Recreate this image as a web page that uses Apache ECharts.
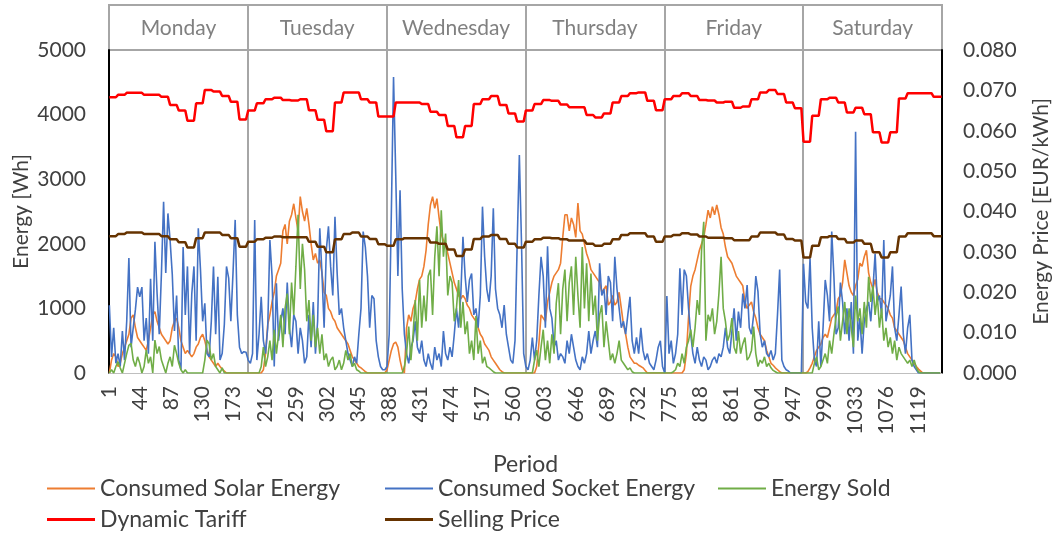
<!DOCTYPE html>
<html>
<head>
<meta charset="utf-8">
<script src="https://cdn.jsdelivr.net/npm/echarts@6/dist/echarts.min.js"></script>
<style>
  html, body { margin: 0; padding: 0; background: #ffffff; }
  #chart { width: 1056px; height: 535px; }
</style>
</head>
<body>
<div id="chart"></div>
<script>
// Week layout: 6 days, 192 periods (7.5 min) per day
const dayNames = ['Monday', 'Tuesday', 'Wednesday', 'Thursday', 'Friday', 'Saturday'];
const periodsPerDay = 192;
const sampleStep = 3;   // energy samples every 3 periods
const tariffStep = 12;  // prices change every 12 periods

// Energy [Wh], one value per 3 periods of the day
const solarMon = [0,200,300,250,100,150,300,400,500,600, 850,900,700,550,500,450,400,350,500,700, 900,950,800,700,600,550,500,450,500,700, 800,850,700,500,400,300,350,300,250,300, 400,450,550,600,500,350,250,200,150,100, 150,100,60,30,0,0,0,0,0,0, 0,0,0,0];
const socketMon = [1050,250,700,150,300,100,650,200,800,1780, 400,700,980,1330,1180,1330,500,850,300,1460, 500,2030,1230,600,1540,2650,1550,2470,2050,1530, 650,1200,200,50,1950,900,1650,300,1230,1650, 500,2240,1600,800,1080,300,250,800,1650,600, 1490,200,300,750,1650,1470,800,1550,2370,900, 400,300,330,320];
const soldMon = [0,50,0,100,175,80,0,150,300,430, 460,200,100,250,150,0,100,355,150,250, 0,510,300,410,200,100,0,150,250,100, 430,300,150,50,0,50,0,0,0,0, 0,0,0,0,200,510,450,200,300,100, 50,0,80,0,0,0,0,0,0,0, 0,0,0,0];

const solarTue = [0,0,0,0,0,0,0,50,300,750, 900,1100,1250,1500,1600,1700,2200,2300,2000,2350, 2450,2620,2400,2200,2730,2500,2350,2550,2300,2000, 1750,1850,1700,1750,1550,1250,1200,1000,950,850, 800,700,650,600,550,500,450,350,250,200, 150,100,80,50,20,0,0,0,0,0, 0,0,0,0];
const socketTue = [200,150,300,2370,200,600,1180,500,300,700, 2060,1500,100,1390,500,800,1000,600,1400,700, 400,900,800,300,700,500,150,250,900,400, 1100,300,800,2240,1550,700,1900,2270,1650,1200, 2420,1550,900,1000,700,500,300,200,100,250, 150,600,1000,2190,1950,1500,700,1200,1150,500, 250,100,50,50];
const soldTue = [0,0,0,0,0,0,100,400,100,250, 500,200,670,300,600,900,400,1000,1230,600, 1400,900,1650,2450,1300,2000,1600,800,1130,500, 900,400,700,300,600,200,300,100,200,250, 50,100,200,50,150,350,200,300,100,150, 50,30,0,0,0,0,0,0,0,0, 0,0,0,0];

const solarWed = [50,200,350,450,480,400,200,50,0,700, 900,800,1000,1100,1300,1450,1500,1650,1900,2300, 2600,2730,2550,2700,2400,2150,2050,2000,1850,1700, 1550,1400,1300,1200,1150,1200,1150,1050,1000,900, 850,800,700,600,550,450,400,350,250,200, 150,100,50,20,0,0,0,0,0,0, 0,0,0,0];
const socketWed = [100,600,2500,4580,3090,1500,2830,1300,600,300, 150,400,500,800,400,300,500,200,100,300, 150,50,400,200,300,100,650,300,200,400, 250,600,1000,700,1200,2110,1500,1100,1440,1540, 900,1000,700,1200,2575,1800,1300,1100,1500,2550, 1300,1000,900,700,1050,600,400,200,150,500, 2000,3375,2000,300];
const soldWed = [0,0,0,0,0,0,0,0,100,300, 720,200,600,1130,500,1440,700,1200,800,1500, 1600,900,1800,2270,1500,2520,1800,2160,1200,1500, 1400,800,1000,1440,700,1100,600,800,300,500, 200,880,300,500,150,250,100,80,50,20, 0,0,0,0,0,0,0,0,0,0, 0,0,0,0];

const solarThu = [0,0,0,0,0,100,450,900,850,800, 1100,1250,1400,1500,1550,1600,1700,2100,2450,2450, 2200,2400,2300,2100,2630,2200,2150,2000,1850,1750, 1600,1550,1500,1450,1400,1250,1300,1350,1050,1100, 1200,1050,1100,1250,1000,750,600,400,250,200, 150,150,120,100,80,40,0,0,0,0, 0,0,0,0];
const socketThu = [100,50,200,550,200,500,1200,1800,1500,700, 1960,1000,850,400,500,200,300,250,150,500, 300,600,400,200,100,50,250,150,300,650, 300,500,650,400,1700,1200,1300,900,1500,1400, 800,1800,1300,1000,700,800,600,900,1180,500, 300,550,300,700,350,200,300,150,100,50, 200,400,500,100];
const soldThu = [0,0,0,0,200,355,100,400,670,200, 500,150,600,300,1080,1390,600,1300,1600,800, 1400,1650,900,1800,1200,700,1950,1000,1700,800, 1540,900,1200,500,900,1050,400,800,500,200, 300,150,300,500,200,150,100,50,80,20, 0,0,0,0,0,0,0,0,0,0, 0,0,0,0];

const solarFri = [0,0,0,0,0,0,0,0,0,50, 300,870,1340,1500,1600,1750,1900,2000,2100,2300, 2520,2400,2575,2450,2600,2450,2250,2150,1950,1800, 1750,1700,1600,1500,1450,1400,1350,1100,1000,1050, 1100,950,850,700,600,550,500,350,250,150, 120,80,50,20,0,0,0,0,0,0, 0,0,0,0];
const socketFri = [0,1190,300,500,150,300,600,1620,900,1600, 1500,1000,600,300,150,400,200,100,250,200, 50,100,200,250,150,300,250,400,700,400, 300,650,1000,500,950,700,1230,1000,1360,700, 600,900,1500,1260,600,400,500,300,250,350, 200,300,900,1600,200,100,50,30,0,0, 0,0,0,0];
const soldFri = [0,0,0,0,20,50,150,100,300,150, 400,500,670,400,700,1130,900,1900,2340,500, 900,800,1000,600,800,1230,1800,1000,800,500, 600,850,400,300,650,300,450,550,200,250, 350,720,300,100,200,150,250,100,150,80, 40,20,0,0,0,0,0,0,0,0, 0,0,0,0];

const solarSat = [0,0,20,80,150,250,350,400,450,550, 600,550,700,850,900,950,1150,1200,1400,1750, 1550,1350,1250,1200,1350,1450,1700,1650,1800,1900, 1550,1400,1300,1450,1250,1150,1150,1100,1050,1000, 900,850,700,650,600,550,500,400,300,250, 200,150,100,60,30,0,0,0,0,0, 0,0,0,0];
const socketSat = [1690,1100,1000,1775,700,200,100,800,100,700, 1440,1200,800,2190,1500,600,700,1400,1100,600, 1000,500,1100,300,3735,500,850,300,800,1000, 1100,800,1300,1850,1100,1200,900,2060,800,1000, 1200,1650,700,500,900,1340,600,300,700,900, 200,100,50,0,0,0,0,0,0,0, 0,0,0,0];
const soldSat = [0,0,0,0,0,150,250,50,100,200, 300,150,500,300,600,870,1030,500,800,1100, 600,1000,700,400,1200,800,1000,600,1100,700, 1490,1100,1350,900,1200,700,1000,500,700,400, 550,300,500,200,400,300,250,200,150,200, 100,200,80,20,0,0,0,0,0,0, 0,0,0,0];

// Prices [EUR/kWh], one value per 12 periods (16 per day)
const tariffMon = [0.0683,0.0689,0.0694,0.0694,0.0689,0.0689,0.0684,0.0664,0.0650,0.0625,0.0668,0.0701,0.0697,0.0686,0.0672,0.0628];
const tariffTue = [0.0650,0.0668,0.0678,0.0682,0.0676,0.0675,0.0678,0.0651,0.0627,0.0599,0.0670,0.0695,0.0695,0.0678,0.0670,0.0635];
const tariffWed = [0.0635,0.0670,0.0670,0.0670,0.0666,0.0647,0.0639,0.0612,0.0584,0.0612,0.0666,0.0678,0.0686,0.0664,0.0643,0.0623];
const tariffThu = [0.0650,0.0666,0.0676,0.0674,0.0665,0.0658,0.0658,0.0639,0.0633,0.0643,0.0670,0.0686,0.0693,0.0695,0.0674,0.0651];
const tariffFri = [0.0678,0.0686,0.0693,0.0686,0.0676,0.0675,0.0670,0.0672,0.0657,0.0660,0.0678,0.0695,0.0701,0.0691,0.0670,0.0656];
const tariffSat = [0.0573,0.0637,0.0678,0.0682,0.0670,0.0645,0.0657,0.0641,0.0596,0.0571,0.0596,0.0680,0.0693,0.0693,0.0693,0.0684];

const sellMon = [0.0339,0.0344,0.0348,0.0348,0.0344,0.0344,0.0339,0.0331,0.0324,0.0311,0.0334,0.0348,0.0348,0.0342,0.0334,0.0313];
const sellTue = [0.0325,0.0331,0.0335,0.0338,0.0336,0.0336,0.0336,0.0325,0.0313,0.0299,0.0331,0.0344,0.0348,0.0338,0.0332,0.0319];
const sellWed = [0.0315,0.0331,0.0334,0.0334,0.0334,0.0323,0.0320,0.0306,0.0290,0.0306,0.0332,0.0338,0.0342,0.0332,0.0320,0.0311];
const sellThu = [0.0325,0.0331,0.0335,0.0334,0.0331,0.0328,0.0328,0.0320,0.0315,0.0320,0.0331,0.0342,0.0346,0.0346,0.0338,0.0325];
const sellFri = [0.0338,0.0342,0.0346,0.0343,0.0338,0.0335,0.0335,0.0334,0.0329,0.0329,0.0338,0.0348,0.0348,0.0343,0.0332,0.0328];
const sellSat = [0.0286,0.0315,0.0336,0.0339,0.0332,0.0323,0.0328,0.0320,0.0299,0.0286,0.0299,0.0338,0.0346,0.0346,0.0346,0.0339];

const solarDays = [solarMon, solarTue, solarWed, solarThu, solarFri, solarSat];
const socketDays = [socketMon, socketTue, socketWed, socketThu, socketFri, socketSat];
const soldDays = [soldMon, soldTue, soldWed, soldThu, soldFri, soldSat];
const tariffDays = [tariffMon, tariffTue, tariffWed, tariffThu, tariffFri, tariffSat];
const sellDays = [sellMon, sellTue, sellWed, sellThu, sellFri, sellSat];

const totalPeriods = periodsPerDay * dayNames.length;
// Category labels 1..1152 for the period axis
const periodLabels = Array.from({ length: totalPeriods }, (_, i) => String(i + 1));

// Period p (1-based) sits at x = p - 0.5 on the hidden value axis
function energyPoints(days) {
  const pts = [];
  days.forEach((vals, d) => {
    vals.forEach((v, i) => pts.push([d * periodsPerDay + i * sampleStep + 0.5, v]));
  });
  return pts;
}
function pricePoints(days) {
  const pts = [];
  days.forEach((steps, d) => {
    for (let k = 0; k < periodsPerDay; k++) {
      pts.push([d * periodsPerDay + k + 0.5, steps[Math.floor(k / tariffStep)]]);
    }
  });
  return pts;
}

const FONT = 'Lato';
const TXT = '#404040';

function legendAt(name, left, top, h) {
  return {
    data: [name], left: left, top: top, icon: 'rect', padding: 0,
    itemWidth: 48, itemHeight: h, itemGap: 0,
    textStyle: { fontFamily: FONT, fontSize: 23, color: TXT },
    selectedMode: false
  };
}

const chart = echarts.init(document.getElementById('chart'), null, { renderer: 'canvas' });
chart.setOption({
  animation: false,
  backgroundColor: '#ffffff',
  textStyle: { fontFamily: FONT },
  grid: [
    { left: 109, right: 114, top: 50, bottom: 162, outerBoundsMode: 'none' },
    { left: 109, right: 114, top: 5, height: 45, outerBoundsMode: 'none', show: true, borderColor: '#a6a6a6', borderWidth: 2, backgroundColor: 'transparent' }
  ],
  legend: [
    legendAt('Consumed Solar Energy', 47, 477, 2),
    legendAt('Consumed Socket Energy', 385, 477, 2),
    legendAt('Energy Sold', 718, 477, 2),
    legendAt('Dynamic Tariff', 47, 508, 3),
    legendAt('Selling Price', 385, 508, 3)
  ],
  xAxis: [
    {
      type: 'category', gridIndex: 0, data: periodLabels, boundaryGap: true, position: 'bottom',
      name: 'Period', nameLocation: 'middle', nameGap: 80,
      nameTextStyle: { fontFamily: FONT, fontSize: 23, color: TXT },
      axisLine: { show: true, lineStyle: { color: '#bfbfbf', width: 1 } },
      axisTick: { show: false },
      axisLabel: { interval: 42, rotate: 90, fontFamily: FONT, fontSize: 21, color: TXT, margin: 13 },
      splitLine: { show: false }
    },
    {
      type: 'value', gridIndex: 0, min: 0, max: totalPeriods, interval: periodsPerDay, position: 'top',
      axisLine: { show: false }, axisTick: { show: false }, axisLabel: { show: false },
      splitLine: { show: true, lineStyle: { color: '#a6a6a6', width: 2 } }
    },
    {
      type: 'category', gridIndex: 1, data: dayNames, boundaryGap: true, position: 'bottom',
      axisLine: { show: false }, axisTick: { show: false },
      axisLabel: { interval: 0, inside: true, margin: 22, verticalAlign: 'middle', fontFamily: FONT, fontSize: 21, color: '#808080' },
      splitLine: { show: false }
    },
    {
      type: 'value', gridIndex: 1, min: 0, max: totalPeriods, interval: periodsPerDay, position: 'top',
      axisLine: { show: false }, axisTick: { show: false }, axisLabel: { show: false },
      splitLine: { show: true, lineStyle: { color: '#a6a6a6', width: 2 } }
    }
  ],
  yAxis: [
    {
      type: 'value', gridIndex: 0, min: 0, max: 5000, interval: 1000, position: 'left',
      name: 'Energy [Wh]', nameLocation: 'middle', nameGap: 77, nameRotate: 90, nameMoveOverlap: false,
      nameTextStyle: { fontFamily: FONT, fontSize: 21, color: TXT },
      axisLine: { show: true, lineStyle: { color: '#000000', width: 2 } },
      axisTick: { show: false },
      axisLabel: { fontFamily: FONT, fontSize: 21, color: TXT, margin: 23, formatter: v => String(v) },
      splitLine: { show: false }
    },
    {
      type: 'value', gridIndex: 0, min: 0, max: 0.08, interval: 0.01, position: 'right',
      name: 'Energy Price [EUR/kWh]', nameLocation: 'middle', nameGap: 89, nameRotate: 90, nameMoveOverlap: false,
      nameTextStyle: { fontFamily: FONT, fontSize: 21, color: TXT },
      axisLine: { show: true, lineStyle: { color: '#000000', width: 2 } },
      axisTick: { show: false },
      axisLabel: { fontFamily: FONT, fontSize: 21, color: TXT, margin: 21, formatter: v => v.toFixed(3) },
      splitLine: { show: false }
    },
    {
      type: 'value', gridIndex: 1, min: 0, max: 1, show: false
    }
  ],
  series: [
    {
      name: 'Consumed Solar Energy', type: 'line', xAxisIndex: 1, yAxisIndex: 0,
      data: energyPoints(solarDays), symbol: 'none', color: '#ED7D31',
      lineStyle: { width: 1.6, color: '#ED7D31' }, z: 2
    },
    {
      name: 'Consumed Socket Energy', type: 'line', xAxisIndex: 1, yAxisIndex: 0,
      data: energyPoints(socketDays), symbol: 'none', color: '#4472C4',
      lineStyle: { width: 1.6, color: '#4472C4' }, z: 3
    },
    {
      name: 'Energy Sold', type: 'line', xAxisIndex: 1, yAxisIndex: 0,
      data: energyPoints(soldDays), symbol: 'none', color: '#70AD47',
      lineStyle: { width: 1.6, color: '#70AD47' }, z: 4
    },
    {
      name: 'Dynamic Tariff', type: 'line', xAxisIndex: 1, yAxisIndex: 1,
      data: pricePoints(tariffDays), symbol: 'none', color: '#FF0000',
      lineStyle: { width: 2.5, color: '#FF0000' }, z: 5
    },
    {
      name: 'Selling Price', type: 'line', xAxisIndex: 1, yAxisIndex: 1,
      data: pricePoints(sellDays), symbol: 'none', color: '#663300',
      lineStyle: { width: 2.5, color: '#663300' }, z: 5
    }
  ]
});
</script>
</body>
</html>
